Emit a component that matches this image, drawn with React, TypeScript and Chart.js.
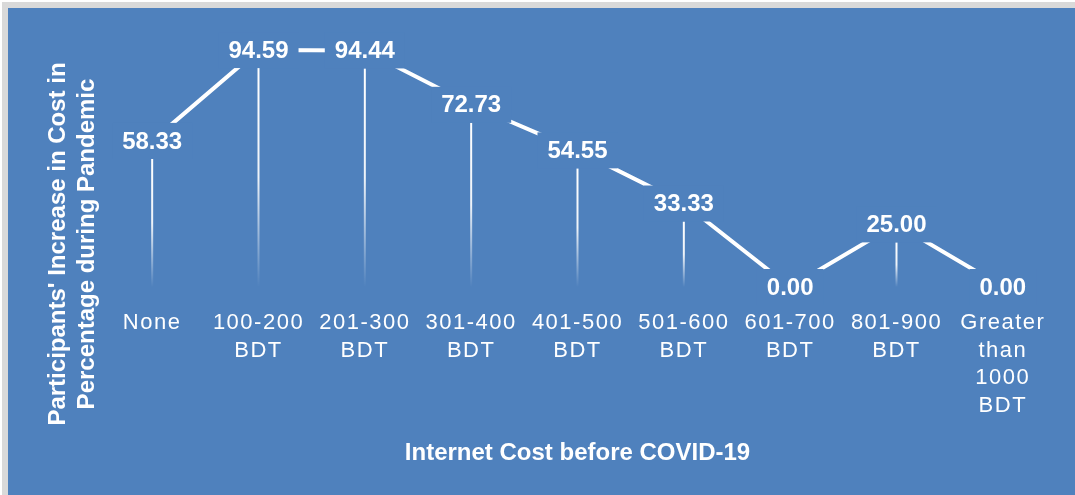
import React, { useEffect, useRef } from 'react';
import { Chart, registerables } from 'chart.js';

Chart.register(...registerables);

const categories: string[][] = [
  ['None'],
  ['100-200', 'BDT'],
  ['201-300', 'BDT'],
  ['301-400', 'BDT'],
  ['401-500', 'BDT'],
  ['501-600', 'BDT'],
  ['601-700', 'BDT'],
  ['801-900', 'BDT'],
  ['Greater', 'than', '1000', 'BDT'],
];
const values: number[] = [58.33, 94.59, 94.44, 72.73, 54.55, 33.33, 0.0, 25.0, 0.0];
const yTitleLines: string[] = ["Participants' Increase in Cost in", 'Percentage during Pandemic'];
const xTitle = 'Internet Cost before COVID-19';

const BLUE = '#4F81BD';
const FONT = "'Liberation Sans', Arial, sans-serif";

const decorPlugin = {
  id: 'decor',
  beforeDraw(chart: any) {
    const ctx = chart.ctx;
    ctx.save();
    ctx.fillStyle = '#ffffff';
    ctx.fillRect(0, 0, chart.width, chart.height);
    ctx.fillStyle = '#D9D9D9';
    ctx.fillRect(2, 2, chart.width, chart.height);
    ctx.fillStyle = BLUE;
    ctx.fillRect(8, 8, chart.width, chart.height);
    ctx.restore();
    (ctx as any).letterSpacing = '1.5px';
  },
  beforeDatasetsDraw(chart: any) {
    const ctx = chart.ctx;
    (ctx as any).letterSpacing = '0px';
    // drop lines
    const meta = chart.getDatasetMeta(0);
    const bottom = chart.chartArea.bottom;
    ctx.save();
    meta.data.forEach((pt: any) => {
      const top = pt.y + 18;
      if (bottom - top < 2) return;
      const g = ctx.createLinearGradient(0, top, 0, bottom);
      g.addColorStop(0, 'rgba(255,255,255,1)');
      g.addColorStop(0.5, 'rgba(255,255,255,0.9)');
      g.addColorStop(1, 'rgba(255,255,255,0)');
      ctx.strokeStyle = g;
      ctx.lineWidth = 2;
      ctx.beginPath();
      ctx.moveTo(pt.x, top);
      ctx.lineTo(pt.x, bottom);
      ctx.stroke();
    });
    ctx.restore();
  },
  afterDatasetsDraw(chart: any) {
    const ctx = chart.ctx;
    const meta = chart.getDatasetMeta(0);
    ctx.save();
    (ctx as any).letterSpacing = '0px';
    ctx.font = `bold 24px ${FONT}`;
    ctx.textAlign = 'center';
    ctx.textBaseline = 'middle';
    meta.data.forEach((pt: any, i: number) => {
      const txt = values[i].toFixed(2);
      const w = ctx.measureText(txt).width;
      ctx.fillStyle = BLUE;
      ctx.fillRect(pt.x - w / 2 - 10, pt.y - 18, w + 20, 36);
      ctx.fillStyle = '#ffffff';
      ctx.fillText(txt, pt.x, pt.y + 1);
    });
    ctx.restore();
  },
  afterDraw(chart: any) {
    const ctx = chart.ctx;
    const ca = chart.chartArea;
    ctx.save();
    (ctx as any).letterSpacing = '0px';
    ctx.fillStyle = '#ffffff';
    ctx.font = `bold 24px ${FONT}`;
    ctx.textAlign = 'center';
    ctx.textBaseline = 'middle';
    ctx.fillText(xTitle, (ca.left + ca.right) / 2, 453);
    ctx.translate(72.5, 244);
    ctx.rotate(-Math.PI / 2);
    ctx.fillText(yTitleLines[0], 0, -14.5);
    ctx.fillText(yTitleLines[1], 0, 14.5);
    ctx.restore();
  },
};

export default function App() {
  const ref = useRef<HTMLCanvasElement>(null);
  useEffect(() => {
    if (!ref.current) return;
    const chart = new Chart(ref.current, {
      type: 'line',
      data: {
        labels: categories as any,
        datasets: [
          {
            data: values,
            borderColor: '#ffffff',
            borderWidth: 4,
            pointRadius: 0,
            tension: 0,
            fill: false,
          },
        ],
      },
      options: {
        responsive: false,
        animation: false,
        layout: { padding: { left: 99, right: 19, top: 36.5, bottom: 0 } },
        plugins: { legend: { display: false }, tooltip: { enabled: false } },
        scales: {
          x: {
            offset: true,
            grid: { display: false, drawTicks: false },
            border: { display: false },
            ticks: {
              color: '#ffffff',
              font: { family: FONT, size: 22, lineHeight: 1.26 },
              padding: 22,
              maxRotation: 0,
              autoSkip: false,
            },
            afterFit(scale: any) {
              scale.height = 208;
            },
          },
          y: { display: false, min: 0, max: 100 },
        },
      },
      plugins: [decorPlugin],
    });
    return () => chart.destroy();
  }, []);
  return (
    <div style={{ position: 'fixed', left: 0, top: 0, width: 1075, height: 495 }}>
      <canvas ref={ref} width={1075} height={495} style={{ display: 'block' }} />
    </div>
  );
}
